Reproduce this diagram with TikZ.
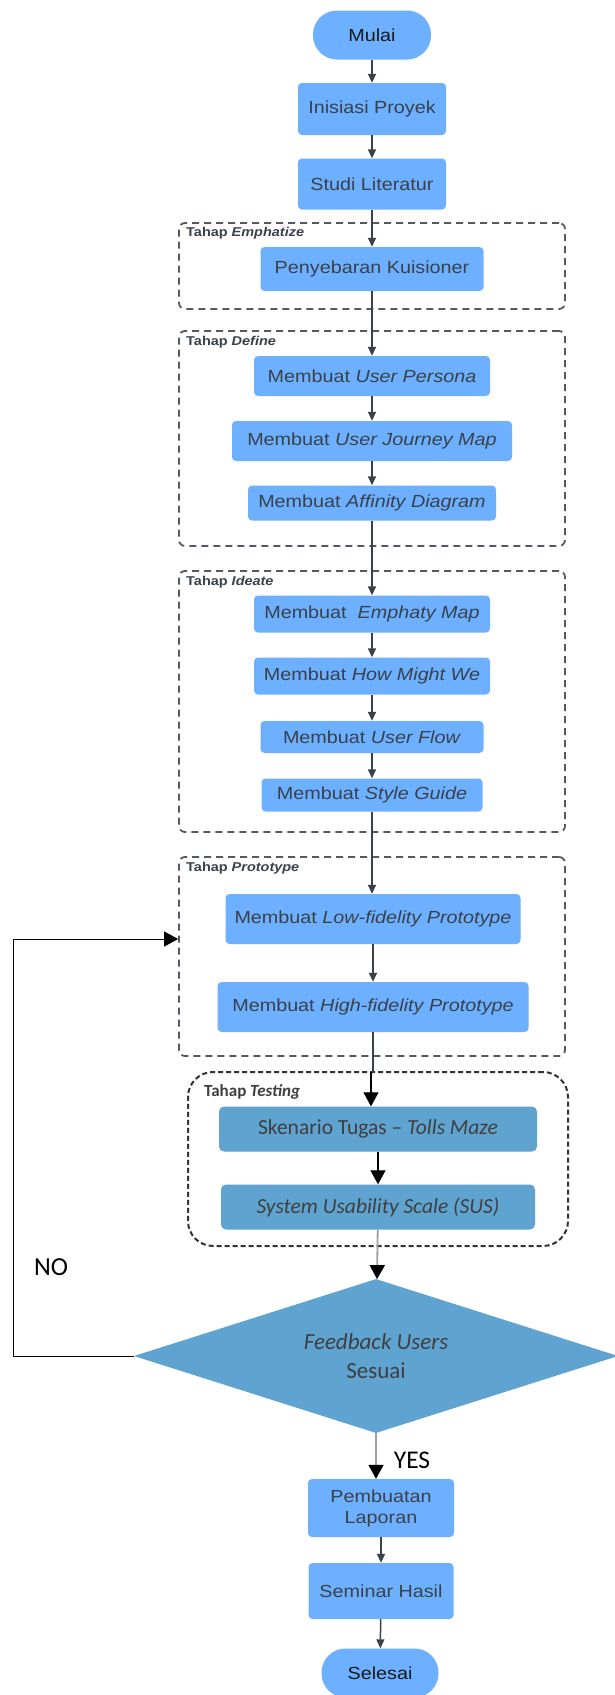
\documentclass[tikz,border=0pt]{standalone}
\usepackage{fontspec}
\usepackage{xcolor}
\usepackage{tikz}
\usetikzlibrary{shapes.geometric, arrows.meta}
\newfontfamily\lucidfont[FakeStretch=1.13]{Liberation Sans}
\newfontfamily\calfont{Carlito}
\definecolor{lucidblue}{HTML}{6CB0FF}
\definecolor{lucidtext}{HTML}{3A414A}
\definecolor{dashgray}{HTML}{545A62}
\definecolor{testblue}{HTML}{5FA3D0}
\definecolor{testtext}{HTML}{3F3F3F}
\definecolor{wordgray}{HTML}{A0A0A0}

\begin{document}
\begin{tikzpicture}[
    x=1pt, y=-1pt,
    flowbox/.style 2 args={rectangle, rounded corners=4pt, fill=lucidblue, text=lucidtext, inner sep=0pt,
                    minimum width=#1, minimum height=#2, font=\lucidfont\fontsize{17.5}{21}\selectfont, align=center},
    terminal/.style={rectangle, rounded corners=24pt, fill=lucidblue, text=black!90, inner sep=0pt,
                    minimum width=118, minimum height=49, font=\lucidfont\fontsize{17.5}{21}\selectfont},
    phasebox/.style={rectangle, rounded corners=6pt, draw=dashgray, line width=1.8pt, dash pattern=on 7pt off 5pt, inner sep=0pt},
    phaselabel/.style={anchor=west, text=lucidtext, inner sep=0pt, font=\lucidfont\fontsize{12.8}{15}\selectfont\bfseries},
    testbox/.style 2 args={rectangle, rounded corners=5pt, fill=testblue, text=testtext, inner sep=0pt,
                    minimum width=#1, minimum height=#2, font=\calfont\fontsize{21.5}{26}\selectfont},
    flowarrow/.style={draw=lucidtext, line width=1.5pt, -{Triangle[length=9pt,width=8pt]}},
    bigarrow/.style={draw=black, line width=1.2pt, -{Triangle[length=14pt,width=15pt]}},
    grayarrow/.style={draw=wordgray, line width=1.8pt, -{Triangle[length=14pt,width=15pt,color=black]}},
]
\useasboundingbox[fill=white] (0,0) rectangle (614,1695);

% Phase frames
\node[phasebox, minimum width=386, minimum height=86] (emphatize) at (372,266) {};
\node[phasebox, minimum width=386, minimum height=215] (define) at (372,438.5) {};
\node[phasebox, minimum width=386, minimum height=261] (ideate) at (372,701.5) {};
\node[phasebox, minimum width=386, minimum height=199] (prototype) at (372,956.5) {};
\node[phasebox, rounded corners=25pt, draw=black!80, line width=2pt, dash pattern=on 5pt off 3pt,
      minimum width=380, minimum height=174] (testing) at (378,1159) {};

% Phase labels
\node[phaselabel] at (186,233) {Tahap \textit{Emphatize}};
\node[phaselabel] at (186,342) {Tahap \textit{Define}};
\node[phaselabel] at (186,582) {Tahap \textit{Ideate}};
\node[phaselabel] at (186,868) {Tahap \textit{Prototype}};
\node[anchor=west, inner sep=0pt, text=testtext, font=\calfont\fontsize{17}{20}\selectfont\bfseries] at (204,1092) {Tahap \textit{Testing}};

% Main column
\node[terminal] (mulai) at (372,35) {Mulai};
\node[flowbox={148}{52}] (inisiasi) at (372,109) {Inisiasi Proyek};
\node[flowbox={148}{51}] (studi) at (372,184) {Studi Literatur};
\node[flowbox={223}{44}] (kuisioner) at (372,269) {Penyebaran Kuisioner};
\node[flowbox={236}{40}] (persona) at (372,376) {Membuat \textit{User Persona}};
\node[flowbox={280}{40}] (journey) at (372,441) {Membuat \textit{User Journey Map}};
\node[flowbox={248}{35}] (affinity) at (372,503) {Membuat \textit{Affinity Diagram}};
\node[flowbox={236}{37}] (empathy) at (372,614) {Membuat~ \textit{Emphaty Map}};
\node[flowbox={236}{37}] (hmw) at (372,676) {Membuat \textit{How Might We}};
\node[flowbox={223}{32}] (userflow) at (372,737) {Membuat \textit{User Flow}};
\node[flowbox={221}{33}] (styleguide) at (372,795) {Membuat \textit{Style Guide}};
\node[flowbox={295}{50}] (lowfi) at (373,919) {Membuat \textit{Low-fidelity Prototype}};
\node[flowbox={311}{50}] (highfi) at (373,1007) {Membuat \textit{High-fidelity Prototype}};

% Testing column
\node[testbox={318}{45}] (skenario) at (378,1129) {Skenario Tugas – \textit{Tolls Maze}};
\node[testbox={314}{45}] (sus) at (378,1207) {\textit{System Usability Scale (SUS)}};
\node[diamond, aspect=3.14, fill=testblue, text=testtext, inner sep=0pt, minimum width=484, minimum height=154,
      align=center, font=\calfont\fontsize{23}{29}\selectfont] (feedback) at (376,1356) {\textit{Feedback Users}\\Sesuai};

% Closing column
\node[flowbox={146}{58}] (laporan) at (381,1508) {Pembuatan\\Laporan};
\node[flowbox={145}{56}] (seminar) at (381,1591) {Seminar Hasil};
\node[terminal, minimum width=117] (selesai) at (380,1673) {Selesai};

% Answers
\node[font=\calfont\fontsize{26}{30}\selectfont] (no) at (51,1267) {NO};
\node[font=\calfont\fontsize{25.5}{30}\selectfont] (yes) at (412,1460) {YES};

% Connectors
\draw[flowarrow] (mulai) -- (inisiasi);
\draw[flowarrow] (inisiasi) -- (studi);
\draw[flowarrow] (studi) -- (kuisioner);
\draw[flowarrow] (kuisioner) -- (persona);
\draw[flowarrow] (persona) -- (journey);
\draw[flowarrow] (journey) -- (affinity);
\draw[flowarrow] (affinity) -- (empathy);
\draw[flowarrow] (empathy) -- (hmw);
\draw[flowarrow] (hmw) -- (userflow);
\draw[flowarrow] (userflow) -- (styleguide);
\draw[flowarrow] (styleguide.south) -- (styleguide.south |- lowfi.north);
\draw[flowarrow] (lowfi) -- (highfi);
\coordinate (testjog) at (371,1072);
\draw[lucidtext, line width=1.5pt] (highfi.south) |- (testjog);
\draw[bigarrow] (testjog) -- (testjog |- skenario.north);
\draw[bigarrow] (skenario) -- (sus);
\draw[grayarrow] (sus) -- (feedback);
\draw[grayarrow] (feedback.south) -- (feedback.south |- laporan.north);
\draw[flowarrow] (laporan) -- (seminar);
\draw[flowarrow] (seminar) -- (selesai);
\coordinate (loopleft) at (13,939);
\draw[bigarrow, line width=1pt] (feedback.west) -| (loopleft) -- (loopleft -| prototype.west);

\end{tikzpicture}
\end{document}
